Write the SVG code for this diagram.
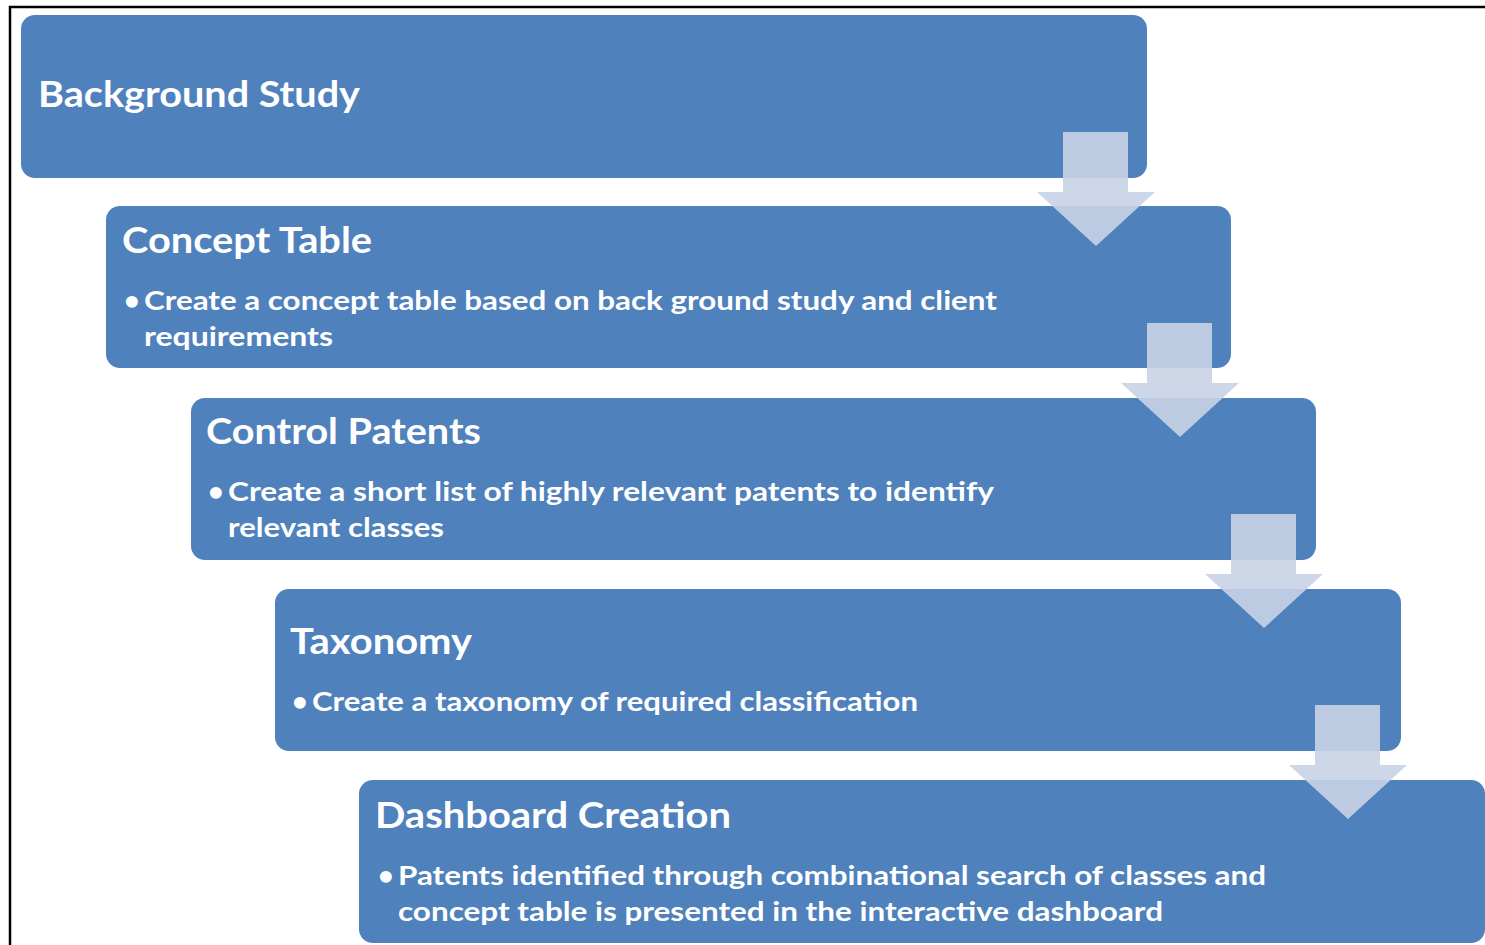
<svg xmlns="http://www.w3.org/2000/svg" width="1485" height="945" viewBox="0 0 1485 945">
<style>
.box{fill:#4F81BD}
.title{font-family:Lato,"Open Sans","Liberation Sans",sans-serif;font-weight:bold;font-size:36px;fill:#FFFFFF}
.body{font-family:Lato,"Open Sans","Liberation Sans",sans-serif;font-weight:bold;font-size:27px;fill:#FFFFFF}
.arrow{fill:#C9D3E6;fill-opacity:0.9}
.frame{stroke:#000000;stroke-width:2.5;fill:none}
</style>
<rect x="0" y="0" width="1485" height="945" fill="#FFFFFF"/>
<path class="frame" d="M10,945 V7 H1485"/>
<g id="node-background-study">
<rect class="box" x="21" y="15" width="1126" height="163" rx="14"/>
<text class="title" x="38" y="107" textLength="322" lengthAdjust="spacingAndGlyphs">Background Study</text>
</g>
<g id="node-concept-table">
<rect class="box" x="106" y="206" width="1125" height="162" rx="14"/>
<text class="title" x="122" y="253" textLength="250" lengthAdjust="spacingAndGlyphs">Concept Table</text>
<text class="body" x="124" y="310">•</text>
<text class="body" x="144" y="310" textLength="853" lengthAdjust="spacingAndGlyphs">Create a concept table based on back ground study and client</text>
<text class="body" x="144" y="346" textLength="189" lengthAdjust="spacingAndGlyphs">requirements</text>
</g>
<g id="node-control-patents">
<rect class="box" x="191" y="398" width="1125" height="162" rx="14"/>
<text class="title" x="206" y="444" textLength="275" lengthAdjust="spacingAndGlyphs">Control Patents</text>
<text class="body" x="208" y="501">•</text>
<text class="body" x="228" y="501" textLength="766" lengthAdjust="spacingAndGlyphs">Create a short list of highly relevant  patents to identify</text>
<text class="body" x="228" y="537" textLength="216" lengthAdjust="spacingAndGlyphs">relevant classes</text>
</g>
<g id="node-taxonomy">
<rect class="box" x="275" y="589" width="1126" height="162" rx="14"/>
<text class="title" x="290" y="654" textLength="182" lengthAdjust="spacingAndGlyphs">Taxonomy</text>
<text class="body" x="292" y="711">•</text>
<text class="body" x="312" y="711" textLength="606" lengthAdjust="spacingAndGlyphs">Create a taxonomy of required classification</text>
</g>
<g id="node-dashboard-creation">
<rect class="box" x="359" y="780" width="1126" height="163" rx="14"/>
<text class="title" x="375" y="828" textLength="356" lengthAdjust="spacingAndGlyphs">Dashboard Creation</text>
<text class="body" x="378" y="885">•</text>
<text class="body" x="398" y="885" textLength="868" lengthAdjust="spacingAndGlyphs">Patents identified through combinational search of classes and</text>
<text class="body" x="398" y="921" textLength="765" lengthAdjust="spacingAndGlyphs">concept table is presented in the interactive dashboard</text>
</g>
<g id="connectors">
<path class="arrow" d="M1063,132 H1128 V192 H1155 L1096,246 L1037,192 H1063 Z"/>
<path class="arrow" d="M1147,323 H1212 V383 H1239 L1180,437 L1121,383 H1147 Z"/>
<path class="arrow" d="M1231,514 H1296 V574 H1323 L1264,628 L1205,574 H1231 Z"/>
<path class="arrow" d="M1315,705 H1380 V765 H1407 L1348,819 L1289,765 H1315 Z"/>
</g>
</svg>
